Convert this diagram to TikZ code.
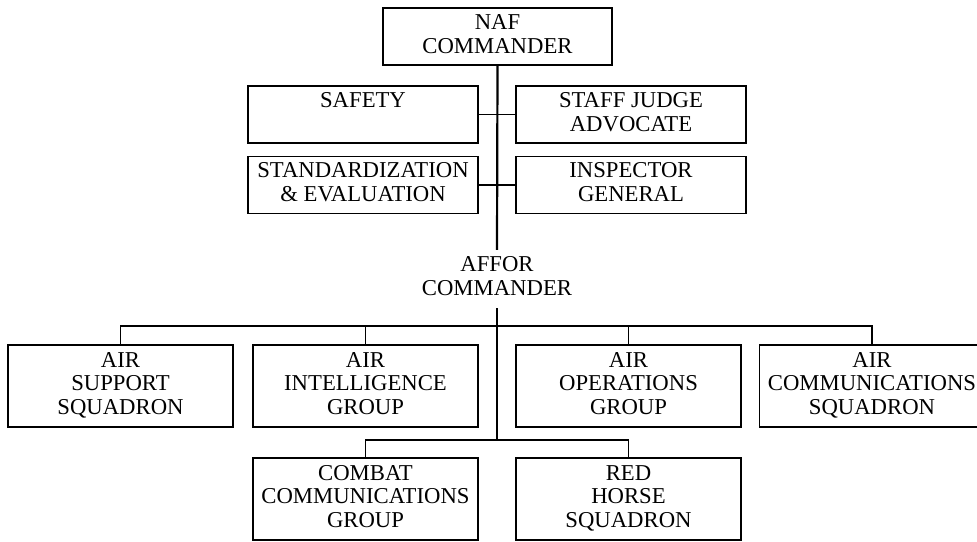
\documentclass[tikz,border=0pt]{standalone}
\usepackage{fontspec}
\setmainfont{Liberation Serif}
% one line of box text, with a strut so every line keeps the same height
\newcommand\boxline[1]{\strut#1}
\begin{document}
\begin{tikzpicture}[x=1pt,y=-1pt,
  orgbox/.style={draw, line width=1.5pt, inner sep=0pt, align=center,
    minimum width=225pt, minimum height=57pt,
    font=\fontsize{22.7}{23.6}\selectfont},
  unitbox/.style={orgbox, minimum height=82pt},
  trunk/.style={line width=2.2pt},
  link/.style={line width=1.6pt}]
\useasboundingbox (0,0) rectangle (977,541);

% command section
\node[orgbox, minimum width=229pt] (naf) at (497.5,36.5)
  {\boxline{NAF}\\\boxline{COMMANDER}};
\node[orgbox, minimum width=230pt] (safety) at (363,114.5)
  {\boxline{SAFETY}\\\boxline{}};
\node[orgbox, minimum width=230pt] (sja) at (631,114.5)
  {\boxline{STAFF JUDGE}\\\boxline{ADVOCATE}};
\node[orgbox, minimum width=230pt] (stdeval) at (363,185)
  {\boxline{STANDARDIZATION}\\\boxline{\&~EVALUATION}};
\node[orgbox, minimum width=230pt] (ig) at (631,185)
  {\boxline{INSPECTOR}\\\boxline{GENERAL}};
\node[align=center, inner sep=0pt, minimum height=58pt,
  font=\fontsize{22.7}{23.6}\selectfont] (affor) at (497,279)
  {\boxline{AFFOR}\\\boxline{COMMANDER}};

% subordinate units
\node[unitbox] (ass) at (120.5,386)
  {\boxline{AIR}\\\boxline{SUPPORT}\\\boxline{SQUADRON}};
\node[unitbox] (aig) at (365.5,386)
  {\boxline{AIR}\\\boxline{INTELLIGENCE}\\\boxline{GROUP}};
\node[unitbox] (aog) at (628.5,386)
  {\boxline{AIR}\\\boxline{OPERATIONS}\\\boxline{GROUP}};
\node[unitbox] (acs) at (872,386)
  {\boxline{AIR}\\\boxline{COMMUNICATIONS}\\\boxline{SQUADRON}};
\node[unitbox] (ccg) at (365.5,499)
  {\boxline{COMBAT}\\\boxline{COMMUNICATIONS}\\\boxline{GROUP}};
\node[unitbox] (rhs) at (628.5,499)
  {\boxline{RED}\\\boxline{HORSE}\\\boxline{SQUADRON}};

% bus junctions on the trunk
\coordinate (busA) at (497,326);
\coordinate (busB) at (497,440);

% trunk
\draw[trunk] (naf.south) -- (affor.north);
\draw[trunk] (affor.south) -- (busB);

% staff offices
\draw[link] (safety.east) -- (sja.west);
\draw[link] (stdeval.east) -- (ig.west);

% first tier of units
\draw[link] (ass.north) |- (busA) -| (acs.north);
\draw[link] (aig.north) -- (aig.north |- busA);
\draw[link] (aog.north) -- (aog.north |- busA);

% second tier of units
\draw[link] (ccg.north) |- (busB) -| (rhs.north);
\end{tikzpicture}
\end{document}
